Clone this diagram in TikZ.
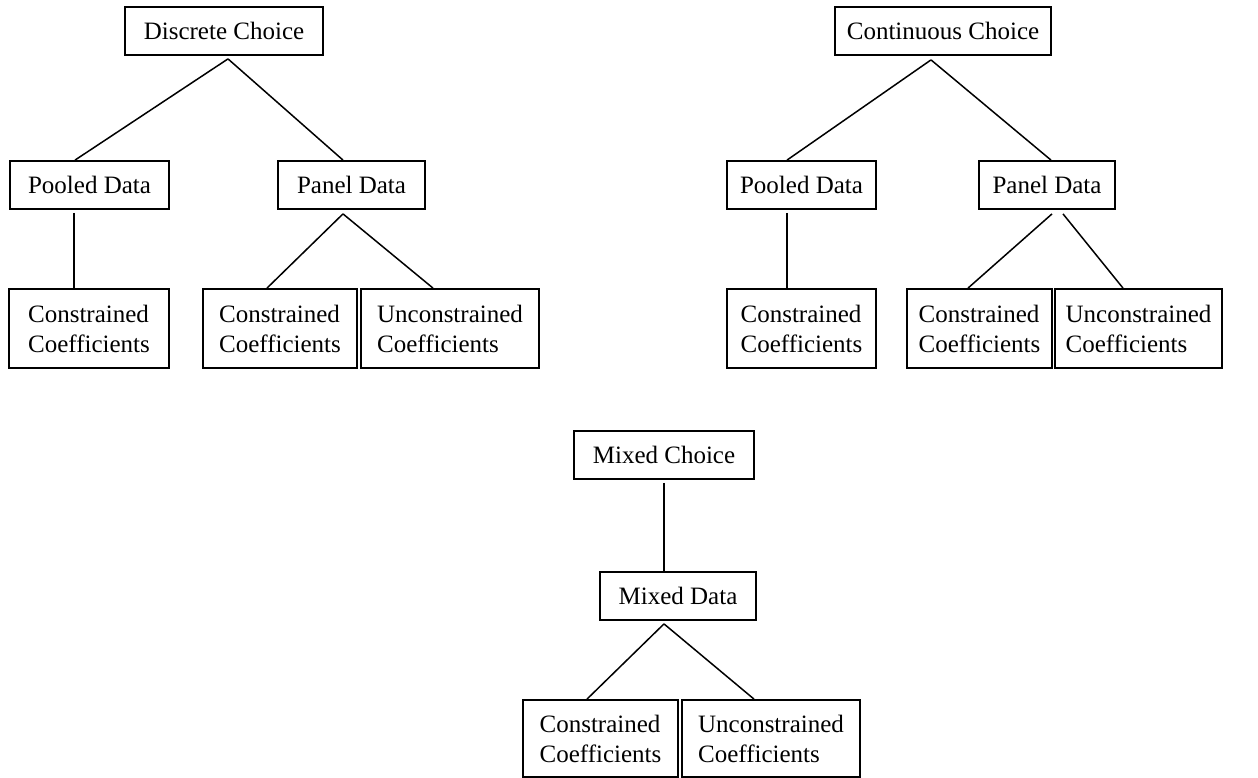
\documentclass[tikz,border=0pt]{standalone}
\usepackage{fontspec}
\setmainfont{Liberation Serif}
\usetikzlibrary{calc}

\tikzset{
  box/.style={draw, line width=1.8pt, rectangle, inner sep=0pt, align=left,
    minimum height=48pt, font=\fontsize{25}{30}\selectfont},
  tallbox/.style={box, minimum height=79pt},
  link/.style={line width=1.5pt}
}

\begin{document}
\begin{tikzpicture}[x=1pt, y=-1pt]
\useasboundingbox (0,0) rectangle (1258,778);

% Discrete choice tree
\node[box, minimum width=198pt] (dc) at (224,31) {Discrete Choice};
\node[box, minimum width=159pt] (dpool) at (89.5,185) {Pooled Data};
\node[box, minimum width=147pt] (dpanel) at (351.5,185) {Panel Data};
\node[tallbox, minimum width=160pt] (dpoolcon) at (89,328.5) {Constrained\\Coefficients};
\node[tallbox, minimum width=154pt] (dpancon) at (280,328.5) {Constrained\\Coefficients};
\node[tallbox, minimum width=178pt] (dpanunc) at (450,328.5) {Unconstrained\\Coefficients};

\draw[link] ($(dc.south)+(4,3)$) -- ($(dpool.north)+(-14.5,0)$);
\draw[link] ($(dc.south)+(4,3)$) -- ($(dpanel.north)+(-8.5,0)$);
\draw[link] ($(dpool.south)+(-15.5,3)$) -- ($(dpoolcon.north)+(-15,0)$);
\draw[link] ($(dpanel.south)+(-8.5,4)$) -- ($(dpancon.north)+(-13,0)$);
\draw[link] ($(dpanel.south)+(-8.5,4)$) -- ($(dpanunc.north)+(-17,0)$);

% Continuous choice tree
\node[box, minimum width=216pt] (cc) at (943,31) {Continuous Choice};
\node[box, minimum width=149pt] (cpool) at (801.5,185) {Pooled Data};
\node[box, minimum width=136pt] (cpanel) at (1047,185) {Panel Data};
\node[tallbox, minimum width=149pt] (cpoolcon) at (801.5,328.5) {Constrained\\Coefficients};
\node[tallbox, minimum width=145pt] (cpancon) at (979.5,328.5) {Constrained\\Coefficients};
\node[tallbox, minimum width=167pt] (cpanunc) at (1138.5,328.5) {Unconstrained\\Coefficients};

\draw[link] ($(cc.south)+(-12,4)$) -- ($(cpool.north)+(-14.5,0)$);
\draw[link] ($(cc.south)+(-12,4)$) -- ($(cpanel.north)+(4,0)$);
\draw[link] ($(cpool.south)+(-14.5,3)$) -- ($(cpoolcon.north)+(-14.5,0)$);
\draw[link] ($(cpanel.south)+(5,4)$) -- ($(cpancon.north)+(-11.5,0)$);
\draw[link] ($(cpanel.south)+(16,4)$) -- ($(cpanunc.north)+(-15.5,0)$);

% Mixed choice tree
\node[box, minimum width=180pt] (mc) at (664,455) {Mixed Choice};
\node[box, minimum width=156pt] (md) at (678,596) {Mixed Data};
\node[tallbox, minimum width=155pt, minimum height=77pt] (mcon) at (600.5,738.5) {Constrained\\Coefficients};
\node[tallbox, minimum width=178pt, minimum height=77pt] (munc) at (771,738.5) {Unconstrained\\Coefficients};

\draw[link] ($(mc.south)+(0,3)$) -- ($(md.north)+(-14,0)$);
\draw[link] ($(md.south)+(-14,3)$) -- ($(mcon.north)+(-13.5,0)$);
\draw[link] ($(md.south)+(-14,3)$) -- ($(munc.north)+(-17,0)$);
\end{tikzpicture}
\end{document}
